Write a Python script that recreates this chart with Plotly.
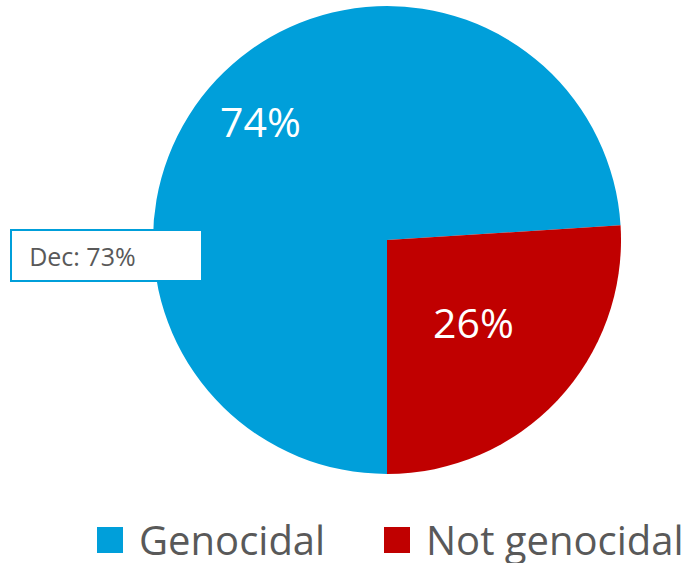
import math
import plotly.graph_objects as go

labels = ["Genocidal", "Not genocidal"]
values = [74, 26]
colors = ["#009FDA", "#C00000"]
callout_text = "Dec: 73%"

W, H = 692, 563
FONT = "Open Sans"
GRAY = "#595959"

# pie geometry (pixels)
CX, CY, R = 387, 240, 234
START = 180  # degrees clockwise from 12 o'clock
label_radius = [0.74, 0.51]

fig = go.Figure()
fig.add_trace(go.Pie(
    labels=labels,
    values=values,
    marker=dict(colors=colors, line=dict(width=0)),
    sort=False,
    direction="clockwise",
    rotation=START,
    textinfo="none",
    domain=dict(x=[(CX - R) / W, (CX + R) / W], y=[1 - (CY + R) / H, 1 - (CY - R) / H]),
    showlegend=False,
    hoverinfo="label+percent",
))

# percentage labels placed at slice mid-angles computed from the data
total = sum(values)
cum = 0
for v, rf in zip(values, label_radius):
    mid = math.radians(START + 360 * (cum + v / 2) / total)
    cum += v
    px = CX + rf * R * math.sin(mid)
    py = CY - rf * R * math.cos(mid)
    fig.add_annotation(
        x=px / W, y=1 - py / H, xref="paper", yref="paper",
        xanchor="center", yanchor="middle", showarrow=False,
        text=f"{round(100 * v / total)}%",
        font=dict(family=FONT, size=41, color="white"),
    )

# callout box
fig.add_annotation(
    x=10 / W, y=1 - 229 / H, xref="paper", yref="paper",
    xanchor="left", yanchor="top",
    text="&nbsp;&nbsp;&#8201;" + callout_text, showarrow=False, align="left",
    font=dict(family=FONT, size=25, color=GRAY),
    bgcolor="white", bordercolor="#009FDA", borderwidth=2,
    width=189, height=49, borderpad=0,
)

# legend: swatches + labels
legend_sw = [97, 384]
for lab, col, sx in zip(labels, colors, legend_sw):
    fig.add_shape(
        type="rect", xref="paper", yref="paper",
        x0=sx / W, x1=(sx + 26) / W, y0=1 - 553 / H, y1=1 - 527 / H,
        fillcolor=col, line=dict(width=0),
    )
    fig.add_annotation(
        x=(sx + 40) / W, y=1 - 539 / H, xref="paper", yref="paper",
        xanchor="left", yanchor="middle", showarrow=False,
        text=lab,
        font=dict(family=FONT, size=40, color=GRAY),
    )

fig.update_layout(
    width=W, height=H,
    margin=dict(l=0, r=0, t=0, b=0),
    paper_bgcolor="white", plot_bgcolor="white",
)
fig.write_html("out.html", config={"displayModeBar": False},
               post_script="document.body.style.margin='0px';")
